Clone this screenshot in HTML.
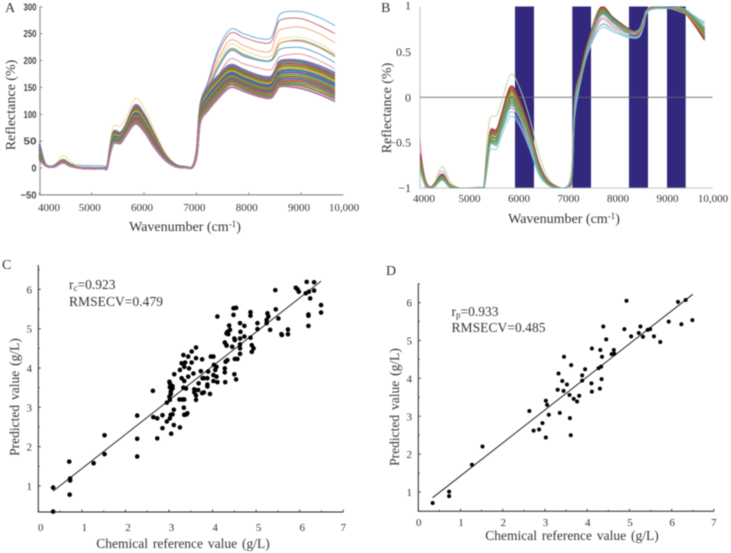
<!DOCTYPE html>
<html>
<head>
<meta charset="utf-8">
<title>NIR spectra and PLS calibration plots</title>
<style>
html,body{margin:0;padding:0;background:#fff}
#fig{display:block;width:731px;height:553px;filter:blur(.45px)}
text{font-family:"Liberation Serif",serif;fill:#333}
.t{font-size:11px}
.l{font-size:13.5px;word-spacing:1.5px}
.a{font-size:14px}
.p{font-size:13.5px}
.s{font-family:"Liberation Sans",sans-serif;font-weight:bold;font-size:10px;fill:#444}
</style>
</head>
<body>
<svg id="fig" xmlns="http://www.w3.org/2000/svg" width="731" height="553" viewBox="0 0 731 553">
<defs><clipPath id="clipB"><rect x="420" y="6.5" width="310" height="182"/></clipPath></defs>
<g id="panelA"></g>
<g id="panelB"></g>
<g id="panelC"></g>
<g id="panelD"></g>

<text x="5" y="12" style="font-size:14px">A</text>
<text x="381" y="12" style="font-size:14px">B</text>
<text x="2" y="269" style="font-size:14px">C</text>
<text x="386" y="275" style="font-size:14px">D</text>

<text class="a" x="185" y="231" text-anchor="middle">Wavenumber  (cm<tspan dy="-4" style="font-size:9px">-1</tspan><tspan dy="4">)</tspan></text>
<text class="a" x="564" y="223" text-anchor="middle">Wavenumber  (cm<tspan dy="-4" style="font-size:9px">-1</tspan><tspan dy="4">)</tspan></text>
<text class="a" transform="translate(15,105) rotate(-90)" text-anchor="middle">Reflectance  (%)</text>
<text class="a" transform="translate(391,108) rotate(-90)" text-anchor="middle">Reflectance  (%)</text>

<text class="l" x="183" y="548" text-anchor="middle">Chemical reference value (g/L)</text>
<text class="l" transform="translate(19,397) rotate(-90)" text-anchor="middle">Predicted value (g/L)</text>
<text class="l" x="572" y="540" text-anchor="middle">Chemical reference value (g/L)</text>
<text class="l" transform="translate(399,407) rotate(-90)" text-anchor="middle">Predicted value (g/L)</text>

<text class="p" x="69" y="289">r<tspan dy="2" style="font-size:9px">c</tspan><tspan dy="-2">=0.923</tspan></text>
<text class="p" x="69" y="306" textLength="94">RMSECV=0.479</text>
<text class="p" x="451.5" y="316">r<tspan dy="2" style="font-size:9px">p</tspan><tspan dy="-2">=0.933</tspan></text>
<text class="p" x="451.5" y="332" textLength="94">RMSECV=0.485</text>
</svg>

<script>
var wavenumbersA=[4000,4100,4200,4300,4450,4600,4800,5220,5290,5350,5420,5550,5650,5830,6000,6200,6400,6600,6800,6930,7010,7075,7220,7420,7650,7900,8200,8420,8520,8620,9000,9350,9650];
var wavenumbersB=[4000,4100,4200,4300,4450,4600,4800,5220,5290,5350,5420,5550,5650,5830,6000,6200,6400,6600,6850,6980,7070,7130,7250,7400,7650,7900,8200,8420,8520,8620,9000,9350,9750];
var seriesColors=['#8e6bb0','#3f8f8f','#c44e52','#6b8e23','#d9a441','#2e7d9a','#7a5195','#55a868','#b5651d','#4c72b0','#c8553d','#59a14f','#9c755f','#af7aa1'];
var bandColorsB=['#b03030','#c0392b','#2e7d9a','#c8553d','#6b8e23','#d9a441','#3f8f8f','#7a8f3a','#b5892d','#59a14f','#4c9fb0','#7fb0a0'];
var outlierColorsA=['#6aaede','#cc6f7c','#f2ab8c','#f8dc8f','#62bccb','#e58a3a','#58a6dc','#dd9a9a'];
var outliersA=[
[50,12,4,6,16,8,5,4,4,40,62,60,72,95,80,46,18,5,2,3,40,122,160,222,258,250,241,242,265,288,291,280,265],
[38,10,3,6,14,7,2,1,2,38,58,56,68,92,76,44,16,4,1,3,38,118,156,215,251,243,234,234,258,276,278,265,250],
[30,9,2,5,13,5,1,0,1,36,60,58,70,98,80,46,18,4,1,3,36,112,152,203,238,228,218,218,245,258,262,250,233],
[34,10,3,7,23,12,2,1,2,45,78,78,92,129,112,70,30,8,2,4,42,112,150,195,230,220,208,208,225,240,243,232,213],
[28,8,2,5,15,6,1,0,1,38,66,64,78,110,92,54,22,5,1,3,36,110,148,190,222,212,202,201,218,233,238,226,210],
[26,8,2,5,14,6,1,0,1,36,62,60,74,106,88,52,20,5,1,3,35,108,146,188,220,210,200,200,216,233,236,224,207],
[24,7,2,4,13,5,1,0,1,34,58,56,70,100,84,48,20,4,1,3,34,106,144,186,218,208,200,199,210,222,224,212,196],
[22,7,2,4,12,5,0,0,1,32,54,52,66,96,80,46,18,4,1,2,32,104,138,172,203,194,186,183,196,208,212,200,184]
];
var bandA=[
[45,9,2,5,15,6,0,0,1,36,68,66,80,117,100,62,25,6,2,3,35,115,150,172,192,183,172,170,185,200,200,190,177],
[40,8,2,5,14,6,0,0,1,35,66,65,79,114,98,60,24,6,2,3,34,113,147,169,189,180,169,167,182,197,197,186,173],
[36,8,2,4,14,5,0,-1,1,34,64,63,77,111,95,58,23,5,1,3,33,110,143,166,186,177,166,164,179,193,193,183,169],
[33,8,2,4,13,5,0,-1,1,34,62,61,75,108,92,56,22,5,1,3,32,108,140,163,183,174,163,161,176,189,189,179,165],
[30,7,2,4,13,5,0,-1,0,33,60,59,73,105,89,54,21,5,1,3,31,106,137,160,180,171,160,158,172,185,185,175,161],
[28,7,2,4,12,5,0,-1,0,32,58,57,71,102,86,52,20,5,1,3,30,104,134,157,177,168,157,155,169,181,181,171,157],
[26,7,2,4,12,4,0,-1,0,31,56,55,70,100,84,50,20,4,1,2,29,102,130,154,174,165,154,152,166,177,177,167,153],
[24,7,2,4,12,4,0,-1,0,30,55,54,68,97,82,48,19,4,1,2,29,100,127,151,171,162,151,149,162,173,173,163,149],
[22,6,2,3,11,4,0,-1,0,30,53,52,67,95,80,47,18,4,1,2,28,98,124,148,168,159,148,146,159,169,169,159,145],
[21,6,2,3,11,4,0,-1,0,29,52,51,65,92,77,45,18,4,1,2,27,96,121,145,165,156,145,143,155,165,165,155,141],
[19,6,2,3,11,4,0,-1,0,28,50,50,64,90,75,43,17,4,1,2,27,94,118,142,162,153,142,140,152,161,161,151,137],
[18,6,2,3,10,4,0,-1,0,28,49,49,63,87,73,41,16,3,1,2,26,91,115,139,159,150,139,136,148,158,157,147,133],
[16,6,2,3,10,3,0,-1,0,27,47,47,61,85,70,40,16,3,1,2,26,88,111,135,155,147,136,133,145,155,153,142,129],
[15,6,2,3,10,3,0,-1,0,26,46,46,60,82,68,38,15,3,.5,2,25,85,107,130,150,143,133,130,142,152,148,137,124]
];
var outlierColorsB=['#b5d69a','#8ec7e8','#cf7f9a','#7fb6dd','#e0a8d0'];
var outliersB=[
[-.55,-.88,-1,-.93,-.76,-.92,-1,-1,-.98,-.5,-.23,-.2,-.05,.25,.12,-.2,-.62,-.9,-1,-.98,-.75,-.05,.25,.5,.8,.76,.68,.68,.8,.95,.98,.92,.82],
[-.75,-.96,-1,-.97,-.9,-.98,-1,-1,-1,-.8,-.58,-.57,-.42,-.21,-.3,-.55,-.85,-.97,-1,-.98,-.82,-.2,.18,.5,.76,.72,.66,.66,.78,.95,.98,.95,.83],
[-.47,-.97,-1,-.96,-.84,-.96,-1,-.99,-1,-.7,-.36,-.37,-.3,-.12,-.22,-.5,-.82,-.96,-1,-.98,-.85,-.1,.22,.52,.85,.78,.7,.7,.82,.96,.98,.94,.72],
[-.72,-.95,-1,-.96,-.87,-.97,-1,-1,-1,-.76,-.52,-.53,-.37,-.16,-.27,-.52,-.84,-.97,-1,-.98,-.84,-.15,.2,.52,.79,.74,.67,.67,.79,.96,.98,.96,.8],
[-.68,-.94,-1,-.95,-.81,-.95,-1,-1,-1,-.72,-.42,-.42,-.33,-.1,-.2,-.48,-.8,-.96,-1,-.98,-.84,-.12,.22,.54,.87,.8,.71,.71,.83,.97,.99,.95,.76]
];
var bandB=[
[-.62,-.9,-.99,-.95,-.85,-.96,-1,-1,-.99,-.68,-.38,-.35,-.18,.12,-.02,-.32,-.72,-.93,-1,-.98,-.88,-.02,.3,.62,.99,.88,.76,.71,.84,.98,.99,.93,.63],
[-.65,-.91,-.99,-.95,-.86,-.96,-1,-1,-.99,-.7,-.39,-.37,-.2,.1,-.04,-.34,-.73,-.93,-1,-.98,-.87,-.01,.29,.61,.98,.87,.75,.71,.84,.98,.99,.94,.65],
[-.67,-.92,-1,-.96,-.86,-.97,-1,-1,-.99,-.71,-.41,-.38,-.22,.08,-.06,-.36,-.74,-.94,-1,-.98,-.87,-.02,.28,.6,.97,.87,.75,.72,.85,.98,.99,.94,.66],
[-.69,-.92,-1,-.96,-.87,-.97,-1,-1,-.99,-.72,-.42,-.4,-.24,.07,-.07,-.37,-.75,-.94,-1,-.98,-.86,-.03,.27,.6,.97,.86,.74,.72,.85,.98,.98,.93,.67],
[-.7,-.93,-1,-.96,-.87,-.97,-1,-1,-1,-.73,-.43,-.41,-.25,.05,-.08,-.38,-.76,-.95,-1,-.98,-.86,-.03,.26,.59,.96,.86,.74,.72,.85,.97,.98,.94,.68],
[-.72,-.93,-1,-.97,-.88,-.97,-1,-1,-1,-.74,-.45,-.42,-.27,.03,-.1,-.39,-.77,-.95,-1,-.98,-.85,-.04,.26,.59,.95,.85,.74,.72,.85,.97,.98,.94,.69],
[-.73,-.94,-1,-.97,-.88,-.98,-1,-1,-1,-.75,-.46,-.44,-.28,.01,-.11,-.4,-.77,-.95,-1,-.98,-.85,-.05,.25,.58,.95,.85,.73,.73,.86,.97,.98,.95,.7],
[-.75,-.94,-1,-.97,-.89,-.98,-1,-1,-1,-.76,-.47,-.45,-.3,-.01,-.13,-.42,-.78,-.96,-1,-.98,-.84,-.06,.24,.57,.94,.84,.73,.73,.86,.97,.98,.95,.71],
[-.76,-.95,-1,-.97,-.89,-.98,-1,-1,-1,-.77,-.49,-.47,-.31,-.03,-.14,-.43,-.79,-.96,-1,-.98,-.84,-.06,.24,.57,.93,.84,.73,.74,.86,.97,.98,.96,.73],
[-.78,-.95,-1,-.98,-.9,-.98,-1,-1,-1,-.78,-.5,-.48,-.33,-.05,-.16,-.44,-.8,-.96,-1,-.98,-.83,-.07,.23,.56,.92,.83,.72,.74,.86,.97,.98,.96,.74],
[-.79,-.96,-1,-.98,-.9,-.99,-1,-1,-1,-.79,-.51,-.5,-.34,-.07,-.18,-.45,-.81,-.97,-1,-.98,-.83,-.08,.22,.56,.91,.83,.72,.74,.87,.97,.98,.96,.76],
[-.8,-.96,-1,-.98,-.91,-.99,-1,-1,-1,-.8,-.52,-.52,-.36,-.09,-.2,-.46,-.82,-.97,-1,-.98,-.82,-.09,.22,.55,.9,.82,.71,.74,.87,.97,.98,.97,.77]
];
var bandEdgesStart=[5919,7077,8222,8990];
var bandEdgesEnd=[6303,7455,8606,9367];
var ticksA=[4000,5000,6000,7000,8000,9000];
var xLabelsSpectra=[4000,5000,6000,7000,8000,9000,10000];
var yTicksA=[-50,0,50,100,150,200,250,300];
var yTicksB=[-1,-0.5,0,0.5,1];
var scatterXTicks=[0,1,2,3,4,5,6,7];
var scatterYTicks=[1,2,3,4,5,6];

var chemC=[.34,.34,.71,.73,.73,.72,1.27,1.52,1.52,2.27,2.27,2.27,2.63,2.64,2.73,2.73,2.85,2.85,2.95,2.95,3.01,3.02,3.08,3.02,3.08,3.04,3.04,3.01,3.02,3.04,3.02,3.08,3.11,3.11,3.05,3.25,3.24,3.31,3.35,3.34,3.35,3.40,3.42,3.12,3.29,3.25,3.33,3.37,3.35,3.29,3.35,3.44,3.52,3.46,3.52,3.62,3.62,3.56,3.44,3.33,3.39,3.58,3.58,3.62,3.62,3.67,3.68,3.73,3.76,3.77,3.80,3.76,3.80,3.88,3.90,3.88,3.88,3.94,3.96,4.02,4.03,4.06,4.02,4.02,4.09,4.11,4.09,4.11,4.29,4.28,4.28,4.30,4.34,4.32,4.28,4.34,4.32,4.36,4.38,4.40,4.32,4.48,4.54,4.48,4.45,4.50,4.51,4.50,4.54,4.51,4.57,4.63,4.64,4.63,4.63,4.63,4.63,4.73,4.73,4.87,4.87,4.87,4.90,4.90,4.94,5.03,5.03,5.24,5.26,5.28,5.24,5.32,5.44,5.45,5.51,5.58,5.59,5.73,5.73,5.91,5.95,5.98,6.14,6.16,6.21,6.20,6.20,6.20,6.24,6.33,6.33,6.49,6.49];
var predC=[.96,.35,1.62,1.19,1.14,.78,1.58,2.29,1.81,2.79,2.20,1.75,3.42,2.75,2.72,2.21,2.80,2.47,3.12,2.64,3.65,3.61,3.54,3.51,3.48,3.40,3.34,3.27,3.19,2.81,2.72,2.82,2.94,2.55,2.33,2.49,3.20,3.20,3.20,2.99,2.81,2.82,2.85,3.84,4.12,3.95,4.33,4.14,4.03,3.74,3.67,4.29,4.14,3.99,4.42,4.52,4.25,3.86,3.78,3.50,3.48,3.46,3.38,3.30,3.19,3.44,3.61,3.92,4.22,3.74,3.74,3.36,3.38,3.74,3.91,3.58,3.53,3.34,4.29,4.29,4.08,3.95,3.82,3.67,3.78,3.64,4.03,5.31,3.64,3.89,3.99,4.16,4.20,4.57,4.65,4.92,4.88,4.86,5.08,4.97,4.58,5.35,5.53,5.52,4.54,4.75,4.71,3.84,3.71,4.23,4.23,5.14,4.92,4.75,4.60,4.50,4.36,5.07,4.80,5.42,5.33,4.77,4.58,4.41,4.50,5.14,4.99,5.22,5.39,5.31,5.14,4.97,5.98,5.49,5.26,4.86,4.84,4.98,4.86,6.04,6.00,5.94,5.90,6.19,5.94,5.36,5.33,5.07,5.77,6.18,5.97,5.60,5.41];
var fitXC=[.34,6.49];
var fitYC=[.87,6.21];

var chemD=[.34,.73,.73,1.27,1.52,2.63,2.73,2.86,2.94,3.02,3.02,3.05,3.09,3.30,3.32,3.35,3.41,3.44,3.45,3.52,3.58,3.59,3.61,3.62,3.68,3.76,3.81,3.88,3.88,3.95,4.10,4.11,4.11,4.27,4.31,4.30,4.33,4.35,4.34,4.38,4.45,4.58,4.63,4.64,4.88,4.93,5.04,5.22,5.26,5.32,5.43,5.49,5.58,5.73,5.93,6.15,6.23,6.33,6.49];
var predD=[.71,1.01,.89,1.72,2.20,3.14,2.62,2.65,2.82,3.41,2.44,3.30,3.04,3.70,4.13,3.09,3.93,3.67,4.57,3.84,3.56,2.95,2.50,4.35,3.46,3.39,3.54,4.08,3.94,4.24,3.87,3.65,4.79,4.27,4.75,3.73,4.31,4.57,3.98,5.37,5.03,4.64,4.75,4.65,5.30,6.05,5.11,5.20,5.37,5.10,5.28,5.30,5.11,4.96,5.50,6.02,5.43,6.07,5.54];
var fitXD=[.34,6.5];
var fitYD=[.85,6.22];

var NS='http://www.w3.org/2000/svg';
function mk(parent,tag,attrs,txt){
  var e=document.createElementNS(NS,tag);
  for(var k in attrs){e.setAttribute(k,attrs[k]);}
  if(txt!==undefined){e.textContent=txt;}
  parent.appendChild(e);
  return e;
}
function smooth(xs,ys){
  var d='M'+xs[0].toFixed(2)+' '+ys[0].toFixed(2);
  for(var i=0;i<xs.length-1;i++){
    var a=Math.max(i-1,0),b=Math.min(i+2,xs.length-1);
    var c1x=xs[i]+(xs[i+1]-xs[a])/6,c1y=ys[i]+(ys[i+1]-ys[a])/6;
    var c2x=xs[i+1]-(xs[b]-xs[i])/6,c2y=ys[i+1]-(ys[b]-ys[i])/6;
    d+='C'+c1x.toFixed(2)+' '+c1y.toFixed(2)+' '+c2x.toFixed(2)+' '+c2y.toFixed(2)+' '+xs[i+1].toFixed(2)+' '+ys[i+1].toFixed(2);
  }
  return d;
}
function drawSeries(g,wn,vals,sx,sy,color,width,name){
  var p=mk(g,'path',{d:smooth(wn.map(sx),vals.map(sy)),fill:'none',stroke:color,'stroke-width':width});
  
  
}
function fmt(v){return String(v).replace('-','\u2212');}

/* Panel A */
var gA=document.getElementById('panelA');
function xA(w){return 91.7+(w-5000)*0.05233;}
function yA(v){return 168-v*0.5373;}
outliersA.forEach(function(s,i){drawSeries(gA,wavenumbersA,s,xA,yA,outlierColorsA[i],1,'spectrum-a-outlier');});
bandA.forEach(function(s,i){drawSeries(gA,wavenumbersA,s,xA,yA,seriesColors[i%seriesColors.length],1.9,'spectrum-a-band');});
var axA=mk(gA,'path',{d:'M40 '+yA(300)+'V'+yA(-50)+'H343.5',fill:'none',stroke:'#777','stroke-width':.9});


yTicksA.forEach(function(t){
  var m=mk(gA,'line',{x1:40,x2:42.5,y1:yA(t),y2:yA(t),stroke:'#777','stroke-width':.8});
  
  
  var l=mk(gA,'text',{'class':'s',x:36.5,y:yA(t)+3.5,'text-anchor':'end',textLength:t<0?16:(t===0?5:13),lengthAdjust:'spacingAndGlyphs'},fmt(t));
  
  
});
ticksA.forEach(function(t){
  var m=mk(gA,'line',{x1:xA(t),x2:xA(t),y1:yA(-50),y2:yA(-50)-2.5,stroke:'#777','stroke-width':.8});
  
  
});
xLabelsSpectra.forEach(function(t){
  var c=Math.min(Math.max(xA(t)-2,49),344);
  var l=mk(gA,'text',{'class':'t',x:c,y:211,'text-anchor':'middle'},t===10000?'10,000':String(t));
  
  
});

/* Panel B */
var gB=document.getElementById('panelB');
function xB(w){return 420+(w-4000)*0.0495;}
function yB(v){return 97.3-v*90.8;}
bandEdgesStart.forEach(function(s,i){
  var r=mk(gB,'rect',{x:xB(s),y:yB(1),width:xB(bandEdgesEnd[i])-xB(s),height:yB(-1)-yB(1),fill:'#32297f'});
  
  
});
var axB=mk(gB,'path',{d:'M420 '+yB(1)+'V'+yB(-1)+'H712.5',fill:'none',stroke:'#bbb','stroke-width':.9});


var zero=mk(gB,'line',{x1:420,x2:712.5,y1:yB(0),y2:yB(0),stroke:'#666','stroke-width':.9});


var clipG=mk(gB,'g',{'clip-path':'url(#clipB)'});


outliersB.forEach(function(s,i){drawSeries(clipG,wavenumbersB,s,xB,yB,outlierColorsB[i],.9,'spectrum-b-outlier');});
bandB.forEach(function(s,i){drawSeries(clipG,wavenumbersB,s,xB,yB,bandColorsB[i],1.3,'spectrum-b-band');});
yTicksB.forEach(function(t){
  var l=mk(gB,'text',{x:411,y:yB(t)+(t===1?3:4),'text-anchor':'end',style:'font-size:12px'},fmt(t));
  
  
});
xLabelsSpectra.forEach(function(t){
  var c=Math.min(Math.max(xB(t),424),713);
  var l=mk(gB,'text',{'class':'t',x:c,y:202,'text-anchor':'middle'},t===10000?'10,000':String(t));
  
  
});

/* Scatter panels */
function scatter(g,chem,pred,fx,fy,sx,sy,axisLeft,axisBottom,axisTop,labelY,labelRight,labelShift,key){
  var ax=mk(g,'path',{d:'M'+axisLeft+' '+axisTop+'V'+axisBottom+'H'+sx(7),fill:'none',stroke:'#222','stroke-width':1});
  
  
  scatterXTicks.forEach(function(t){
    var m=mk(g,'line',{x1:sx(t),x2:sx(t),y1:axisBottom,y2:axisBottom-2.5,stroke:'#222','stroke-width':.8});
    
    
    if(t<7){
      var n=mk(g,'line',{x1:sx(t+.5),x2:sx(t+.5),y1:axisBottom,y2:axisBottom-1.5,stroke:'#222','stroke-width':.7});
      
      
    }
    var l=mk(g,'text',{x:sx(t)+(t===7?0:labelShift),y:labelY,'text-anchor':'middle',style:'font-size:11px'},String(t));
    
    
  });
  scatterYTicks.forEach(function(t){
    var m=mk(g,'line',{x1:axisLeft,x2:axisLeft+2.5,y1:sy(t),y2:sy(t),stroke:'#222','stroke-width':.8});
    
    
    var n=mk(g,'line',{x1:axisLeft,x2:axisLeft+1.5,y1:sy(t+.5),y2:sy(t+.5),stroke:'#222','stroke-width':.7});
    
    
    var l=mk(g,'text',{x:labelRight,y:sy(t)+4,'text-anchor':'end',style:'font-size:11px'},String(t));
    
    
  });
  var fit=mk(g,'line',{x1:sx(fx[0]),y1:sy(fy[0]),x2:sx(fx[1]),y2:sy(fy[1]),stroke:'#222','stroke-width':1});
  
  
  chem.forEach(function(v,i){
    var c=mk(g,'circle',{cx:sx(v),cy:sy(pred[i]),r:key==='c'?2.3:2,fill:'#000'});
    
    
  });
}
function xC(v){return 38.3+v*43.57;}
function yC(v){return 486-(v-1)*39.33;}
scatter(document.getElementById('panelC'),chemC,predC,fitXC,fitYC,xC,yC,38.3,512,265,531,32,2.5,'c');
function xD(v){return 418.3+v*42.23;}
function yD(v){return 492-(v-1)*37.87;}
scatter(document.getElementById('panelD'),chemD,predD,fitXD,fitYD,xD,yD,418.3,511.3,283.3,526,412,0.5,'d');
</script>
</body>
</html>
